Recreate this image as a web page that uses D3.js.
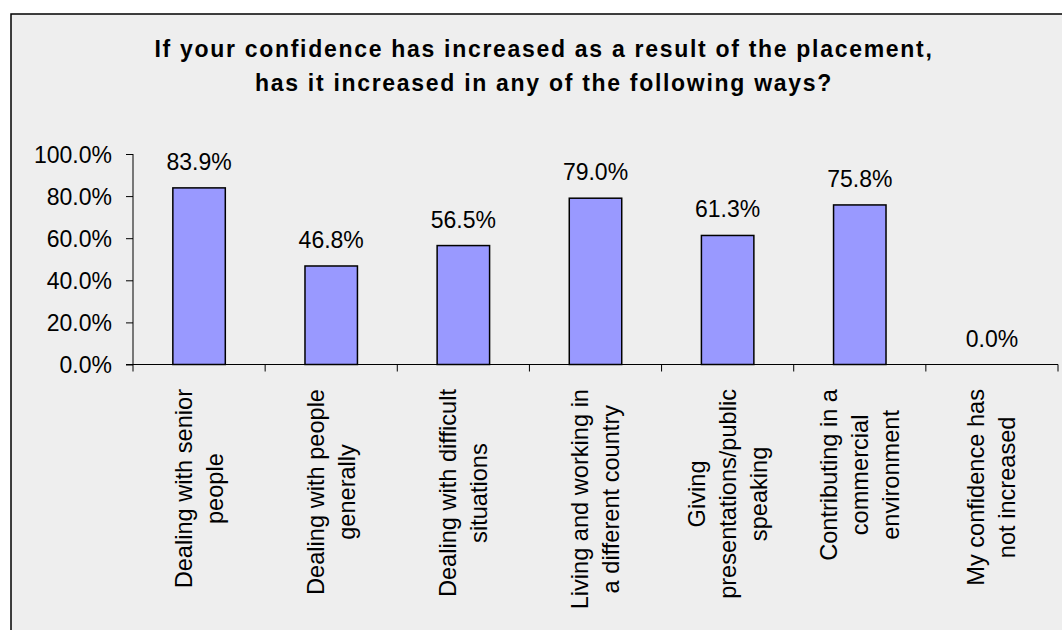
<!DOCTYPE html>
<html>
<head>
<meta charset="utf-8">
<script src="https://cdn.jsdelivr.net/npm/d3@7"></script>
<style>
  html, body { margin: 0; padding: 0; background: #ffffff; }
  svg { display: block; font-family: "Liberation Sans", Arial, sans-serif; }
</style>
</head>
<body>
<div id="chart"></div>
<script>
// data
const categories = [
  "Dealing with senior people",
  "Dealing with people generally",
  "Dealing with difficult situations",
  "Living and working in a different country",
  "Giving presentations/public speaking",
  "Contributing in a commercial environment",
  "My confidence has not increased"
];
// wrapped lines, as in the original
const categoryLines = [
  ["Dealing with senior", "people"],
  ["Dealing with people", "generally"],
  ["Dealing with difficult", "situations"],
  ["Living and working in", "a different country"],
  ["Giving", "presentations/public", "speaking"],
  ["Contributing in a", "commercial", "environment"],
  ["My confidence has", "not increased"]
];
const values = [83.9, 46.8, 56.5, 79.0, 61.3, 75.8, 0.0];
const yTicks = [0, 20, 40, 60, 80, 100];
const titleLines = [
  "If your confidence has increased as a result of the placement,",
  "has it increased in any of the following ways?"
];

// dimensions
const width = 1062;
const height = 630;
const plot = { left: 133, right: 1058, top: 154, bottom: 364.5 };
const fontSize = 23;
const labelFontSize = 23.6;
const lineStep = 31;          // spacing between wrapped label lines
const labelTop = 389;         // where the longest rotated line ends

const svg = d3.select("#chart").append("svg")
  .attr("width", width)
  .attr("height", height);

// chart area background and frame (right and bottom run past the picture)
svg.append("rect")
  .attr("x", 11).attr("y", 14)
  .attr("width", width + 20).attr("height", height + 20)
  .attr("fill", "#eeeeee")
  .attr("stroke", "#000")
  .attr("stroke-width", 1.5);

// title
svg.append("g").selectAll("text")
  .data(titleLines)
  .enter()
  .append("text")
  .attr("x", 544)
  .attr("y", (d, i) => 57 + i * 34)
  .attr("text-anchor", "middle")
  .style("font-size", "23px")
  .style("font-weight", "bold")
  .style("letter-spacing", "1.7px")
  .text(d => d);

// scales
const x = d3.scaleBand()
  .domain(categories)
  .range([plot.left, plot.right])
  .padding(0);

const y = d3.scaleLinear()
  .domain([0, 100])
  .range([plot.bottom, plot.top]);

const barWidth = x.bandwidth() * 0.397;

// y axis
const yAxis = svg.append("g")
  .attr("transform", `translate(${plot.left},0)`)
  .call(d3.axisLeft(y)
    .tickValues(yTicks)
    .tickSize(7)
    .tickPadding(14)
    .tickFormat(d => d.toFixed(1) + "%"));
yAxis.select(".domain").remove();
yAxis.append("line")
  .attr("x1", 0).attr("x2", 0)
  .attr("y1", plot.top).attr("y2", plot.bottom + 7)
  .attr("stroke", "#000");
yAxis.selectAll(".tick text")
  .style("font-size", `${fontSize}px`)
  .attr("fill", "#000")
  .attr("dy", "0.35em");

// x axis: ticks sit between categories
const xAxis = svg.append("g");
xAxis.append("line")
  .attr("x1", plot.left - 7).attr("x2", plot.right)
  .attr("y1", plot.bottom).attr("y2", plot.bottom)
  .attr("stroke", "#000");
xAxis.selectAll(".xtick")
  .data(categories)
  .enter()
  .append("line")
  .attr("class", "xtick")
  .attr("x1", d => x(d) + x.bandwidth())
  .attr("x2", d => x(d) + x.bandwidth())
  .attr("y1", plot.bottom)
  .attr("y2", plot.bottom + 7)
  .attr("stroke", "#000");

// bars
svg.append("g").selectAll("rect")
  .data(values)
  .enter()
  .append("rect")
  .attr("x", (d, i) => x(categories[i]) + (x.bandwidth() - barWidth) / 2)
  .attr("y", d => y(d))
  .attr("width", barWidth)
  .attr("height", d => y(0) - y(d))
  .attr("fill", "#9999ff")
  .attr("stroke", "#000")
  .attr("stroke-width", 1.5)
  .style("display", d => d > 0 ? null : "none");

// value labels
svg.append("g").selectAll("text")
  .data(values)
  .enter()
  .append("text")
  .attr("x", (d, i) => x(categories[i]) + x.bandwidth() / 2)
  .attr("y", d => y(d) - 18)
  .attr("text-anchor", "middle")
  .style("font-size", `${fontSize}px`)
  .text(d => d.toFixed(1) + "%");

// rotated category labels, lines centred on each other
const labelGroups = svg.append("g").selectAll("g")
  .data(categoryLines)
  .enter()
  .append("g");

labelGroups.each(function (lines, i) {
  const g = d3.select(this);
  const texts = g.selectAll("text")
    .data(lines)
    .enter()
    .append("text")
    .attr("text-anchor", "middle")
    .attr("y", (d, j) => (j - (lines.length - 1) / 2) * lineStep + 8)
    .style("font-size", `${labelFontSize}px`)
    .text(d => d);

  let maxLen = 0;
  texts.each(function () {
    maxLen = Math.max(maxLen, this.getComputedTextLength());
  });
  texts.attr("x", -maxLen / 2);

  const cx = x(categories[i]) + x.bandwidth() / 2;
  g.attr("transform", `translate(${cx},${labelTop}) rotate(-90)`);
});
</script>
</body>
</html>
